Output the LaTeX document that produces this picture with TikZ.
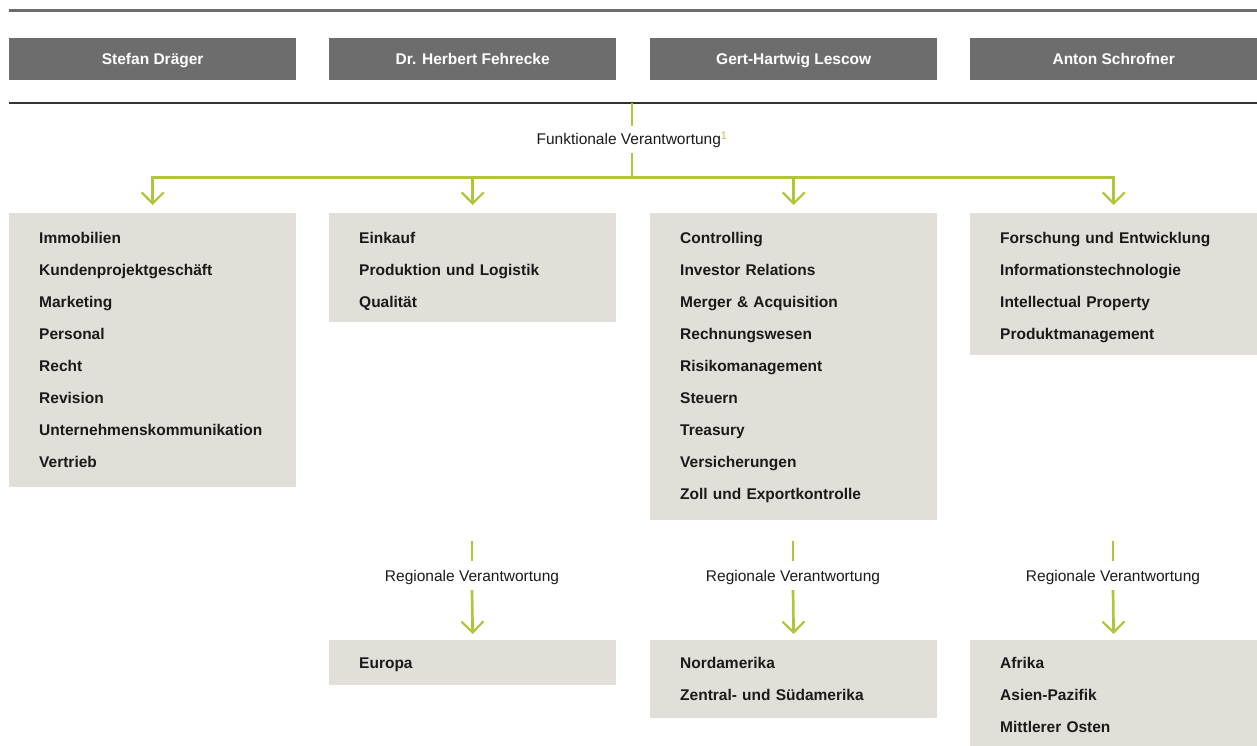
\documentclass[tikz,border=0pt]{standalone}
\usepackage{fontspec}
\setmainfont{Liberation Sans}
\usepackage{xcolor}
\usetikzlibrary{arrows.meta, positioning}

\definecolor{headgray}{RGB}{109,109,109}
\definecolor{boxbeige}{RGB}{226,223,216}
\definecolor{lime}{RGB}{178,196,58}
\definecolor{textdark}{RGB}{26,26,26}

\tikzset{
    head/.style={fill=headgray, text=white, font=\bfseries\fontsize{15.5}{18}\selectfont,
        minimum width=287pt, minimum height=42pt, inner sep=0pt, text height=11pt, text depth=0pt,
        anchor=north west},
    unitbox/.style={fill=boxbeige, text=textdark, font=\bfseries\fontsize{15.5}{32}\selectfont,
        inner xsep=30pt, inner ysep=0pt, text width=227pt, align=left, anchor=north west,
        text height=30.5pt, text depth=#1},
    regbox/.style={unitbox=#1, text height=28.5pt},
    resp/.style={text=textdark, font=\fontsize{15.5}{18}\selectfont, inner sep=0pt,
        text height=11pt, text depth=0pt},
    link/.style={draw=lime, line width=2.7pt},
    flow/.style={link, -{Straight Barb[length=11pt, width=22pt, line width=2.2pt]}}
}

\begin{document}
\begin{tikzpicture}[x=1pt, y=-1pt]
    \useasboundingbox (0,0) rectangle (1257,746);

    % board
    \draw[headgray, line width=3pt] (9,10.5) -- (1257,10.5);
    \node[head] (hdrA) at (9,38)   {Stefan Dräger};
    \node[head] (hdrB) at (329,38) {Dr. Herbert Fehrecke};
    \node[head] (hdrC) at (650,38) {Gert-Hartwig Lescow};
    \node[head] (hdrD) at (970,38) {Anton Schrofner};
    \draw[black!80, line width=1.2pt] (9,103) -- (1257,103);

    % functional units
    \node[unitbox=243.5pt] (funA) at (9,213)
        {Immobilien\\Kundenprojektgeschäft\\Marketing\\Personal\\Recht\\Revision\\Unternehmenskommunikation\\Vertrieb};
    \node[unitbox=78.5pt] (funB) at (329,213)
        {Einkauf\\Produktion und Logistik\\Qualität};
    \node[unitbox=276.5pt] (funC) at (650,213)
        {Controlling\\Investor Relations\\Merger \& Acquisition\\Rechnungswesen\\Risikomanagement\\Steuern\\Treasury\\Versicherungen\\Zoll und Exportkontrolle};
    \node[unitbox=111.5pt] (funD) at (970,213)
        {Forschung und Entwicklung\\Informationstechnologie\\Intellectual Property\\Produktmanagement};

    \coordinate (top) at (632,103);
    \coordinate (jn) at (632,177.5);
    \node[resp, minimum height=27pt] (flab) at (632,139.5)
        {Funktionale Verantwortung\textsuperscript{\color{lime}1}};
    \draw[link] (top) -- (top |- flab.north);
    \draw[link] (top |- flab.south) -- (jn);
    \foreach \u in {funA,funB,funC,funD}
        \draw[flow, shorten >=8pt] (jn) -| (\u.north);

    % regional units
    \node[regbox=16.5pt] (regB) at (329,640) {Europa};
    \node[regbox=49.5pt] (regC) at (650,640) {Nordamerika\\Zentral- und Südamerika};
    \node[regbox=77.5pt] (regD) at (970,640) {Afrika\\Asien-Pazifik\\Mittlerer Osten};

    \foreach \r/\x in {B/472,C/793,D/1113} {
        \coordinate (s\r) at (\x,541);
        \node[resp, minimum height=29pt] (rlab\r) at (\x,575.5) {Regionale Verantwortung};
        \draw[link] (s\r) -- (rlab\r.north);
        \draw[flow, shorten >=6pt] (rlab\r.south) -- (reg\r.north);
    }
\end{tikzpicture}
\end{document}
